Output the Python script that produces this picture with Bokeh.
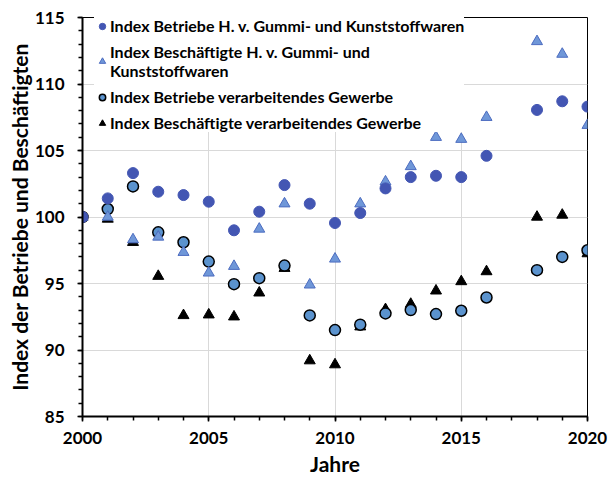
from bokeh.plotting import figure
from bokeh.models import Legend, LegendItem, SingleIntervalTicker, Range1d
from bokeh.embed import file_html
from bokeh.resources import INLINE

years = [2000, 2001, 2002, 2003, 2004, 2005, 2006, 2007, 2008, 2009, 2010,
         2011, 2012, 2013, 2014, 2015, 2016, 2018, 2019, 2020]

betriebe_gummi = [100.0, 101.4, 103.3, 101.9, 101.65, 101.15, 99.0, 100.4, 102.4, 101.0, 99.55,
                  100.3, 102.15, 103.0, 103.1, 103.0, 104.6, 108.05, 108.7, 108.3]
beschaeftigte_gummi = [100.0, 100.0, 98.3, 98.5, 97.35, 95.8, 96.3, 99.1, 101.0, 94.9, 96.85,
                       101.0, 102.65, 103.8, 106.0, 105.85, 107.5, 113.2, 112.25, 106.9]
betriebe_verarb = [100.0, 100.6, 102.3, 98.85, 98.1, 96.65, 94.95, 95.4, 96.35, 92.6, 91.5,
                   91.9, 92.75, 93.0, 92.7, 92.95, 93.95, 96.0, 97.0, 97.5]
beschaeftigte_verarb = [100.0, 99.85, 98.1, 95.55, 92.6, 92.65, 92.5, 94.3, 96.15, 89.2, 88.9,
                        91.75, 93.05, 93.45, 94.45, 95.15, 95.9, 100.0, 100.15, 97.25]

labels = [
    "Index Betriebe H. v. Gummi- und Kunststoffwaren",
    "Index Beschäftigte H. v. Gummi- und\nKunststoffwaren",
    "Index Betriebe verarbeitendes Gewerbe",
    "Index Beschäftigte verarbeitendes Gewerbe",
]

FONT = "Lato"

p = figure(width=608, height=478, output_backend="svg", toolbar_location=None,
           x_range=Range1d(2000, 2020), y_range=Range1d(85, 115),
           min_border_left=82, min_border_right=21, min_border_top=17, min_border_bottom=62,
           background_fill_color="white", border_fill_color="white")

p.outline_line_color = "black"
p.outline_line_width = 1

r4 = p.scatter(years, beschaeftigte_verarb, marker="triangle", size=11,
               fill_color="black", line_color="black")
r3 = p.scatter(years, betriebe_verarb, marker="circle", size=11,
               fill_color="#5B93CE", line_color="black", line_width=1.5)
r2 = p.scatter(years, beschaeftigte_gummi, marker="triangle", size=11,
               fill_color="#6F97D8", line_color="#4C6CC0", line_width=1)
r1 = p.scatter(years, betriebe_gummi, marker="circle", size=11,
               fill_color="#4356B3", line_color="#4356B3")

for ax in (p.xaxis[0], p.yaxis[0]):
    ax.ticker = SingleIntervalTicker(interval=5, num_minor_ticks=5)
    ax.axis_line_width = 2
    ax.axis_line_color = "black"
    ax.major_tick_in = 0
    ax.major_tick_out = 5
    ax.minor_tick_in = 0
    ax.minor_tick_out = 4
    ax.major_tick_line_width = 1.5
    ax.minor_tick_line_width = 1.5
    ax.major_tick_line_color = "black"
    ax.minor_tick_line_color = "black"
    ax.major_label_text_font = FONT
    ax.major_label_text_font_style = "bold"
    ax.major_label_text_font_size = "17px"
    ax.major_label_text_color = "black"
    ax.axis_label_text_font = FONT
    ax.axis_label_text_font_style = "bold"
    ax.axis_label_text_font_size = "21px"
    ax.axis_label_text_color = "black"

p.xaxis.axis_label = "Jahre"
p.yaxis.axis_label = "Index der Betriebe und Beschäftigten"
p.xaxis.major_label_standoff = 10
p.yaxis.major_label_standoff = 13
p.xaxis.axis_label_standoff = 4
p.yaxis.axis_label_standoff = 0

p.xgrid.grid_line_color = "#d9d9d9"
p.ygrid.grid_line_color = "#d9d9d9"
p.xgrid.grid_line_width = 1
p.ygrid.grid_line_width = 1

legend = Legend(items=[
    LegendItem(label=labels[0], renderers=[r1]),
    LegendItem(label=labels[1], renderers=[r2]),
    LegendItem(label=labels[2], renderers=[r3]),
    LegendItem(label=labels[3], renderers=[r4]),
], location=(12, 284))
legend.margin = 0
legend.padding = 1
legend.spacing = 7
legend.glyph_width = 16
legend.glyph_height = 18
legend.label_standoff = 0
legend.label_height = 18
legend.label_text_font = FONT
legend.label_text_font_style = "bold"
legend.label_text_font_size = "16px"
legend.label_text_color = "black"
legend.border_line_color = None
legend.background_fill_color = "white"
legend.background_fill_alpha = 1.0
p.add_layout(legend, "center")

open("out.html", "w").write(file_html(p, INLINE))
